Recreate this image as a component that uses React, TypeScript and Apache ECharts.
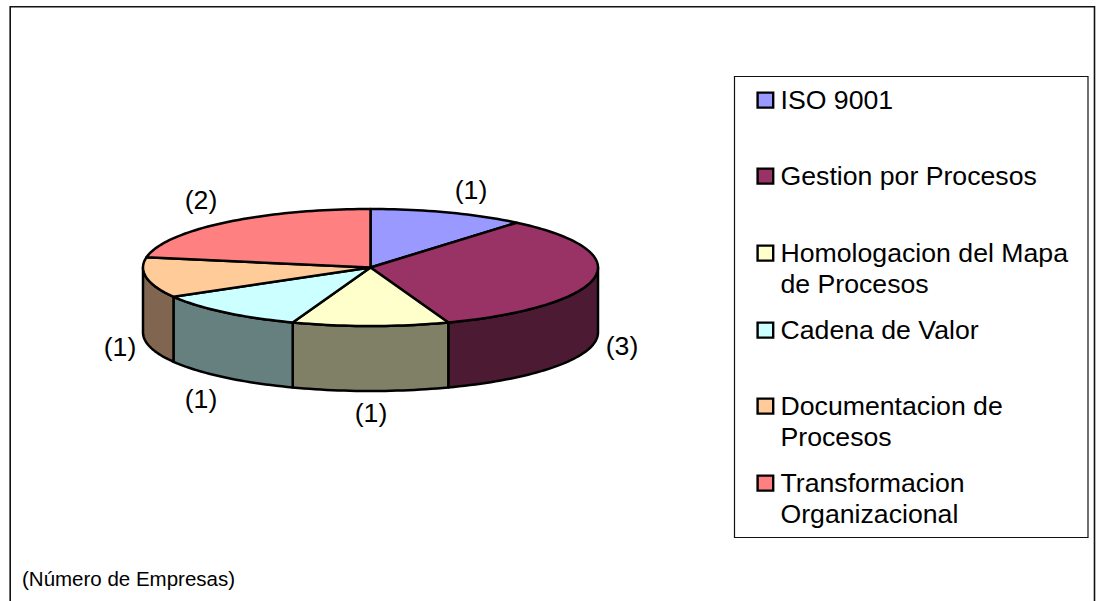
import React, { useEffect, useRef } from "react";
import * as echarts from "echarts";

const categories = [
  "ISO 9001",
  "Gestion por Procesos",
  "Homologacion del Mapa\nde Procesos",
  "Cadena de Valor",
  "Documentacion de\nProcesos",
  "Transformacion\nOrganizacional",
];
const values = [1, 3, 1, 1, 1, 2];
const valueLabels = ["(1)", "(3)", "(1)", "(1)", "(1)", "(2)"];
const topColors = ["#9999FF", "#993366", "#FFFFCC", "#CCFFFF", "#FFCC99", "#FF8080"];
const wallColors = ["#4D4D80", "#4D1A33", "#808066", "#668080", "#806650", "#804040"];
const footnote = "(Número de Empresas)";

const FONT = '"Liberation Sans", Arial, sans-serif';
const CX = 370.5;
const CY = 267.5;
const RX = 227.5;
const RY = 58.5;
const DEPTH = 65;
const labelCentres = [
  [471, 190],
  [622, 346],
  [371, 413],
  [201, 399],
  [120, 347],
  [201, 200],
];
const legendCentres = [100, 176, 253, 330, 406, 483];

const total = values.reduce((a, b) => a + b, 0);
const startAngle = (i: number) =>
  (values.slice(0, i).reduce((a, b) => a + b, 0) / total) * 2 * Math.PI;

const ellipsePoint = (a: number, dy = 0) => [
  CX + RX * Math.sin(a),
  CY - RY * Math.cos(a) + dy,
];
const arcPoints = (a0: number, a1: number, dy = 0) => {
  const n = Math.max(2, Math.ceil(((a1 - a0) / Math.PI) * 120));
  const pts: number[][] = [];
  for (let k = 0; k <= n; k++) pts.push(ellipsePoint(a0 + ((a1 - a0) * k) / n, dy));
  return pts;
};

const edge = { stroke: "#000", lineWidth: 2.5, lineJoin: "round" as const };

const renderWall = (params: any) => {
  const i = params.dataIndex;
  const a0 = Math.max(startAngle(i), Math.PI / 2);
  const a1 = Math.min(startAngle(i + 1), (3 * Math.PI) / 2);
  if (a1 <= a0) return { type: "group", children: [] };
  const points = [...arcPoints(a0, a1), ...arcPoints(a0, a1, DEPTH).reverse()];
  return { type: "polygon", shape: { points }, style: { fill: wallColors[i], ...edge } };
};

const renderTop = (params: any) => {
  const i = params.dataIndex;
  const points = [[CX, CY], ...arcPoints(startAngle(i), startAngle(i + 1))];
  return {
    type: "group",
    children: [
      { type: "polygon", shape: { points }, style: { fill: topColors[i], ...edge } },
      {
        type: "text",
        style: {
          text: valueLabels[i],
          x: labelCentres[i][0],
          y: labelCentres[i][1],
          align: "center",
          verticalAlign: "middle",
          fontFamily: FONT,
          fontSize: 26.67,
          fill: "#000",
        },
      },
    ],
  };
};

export default function App() {
  const ref = useRef<HTMLDivElement>(null);
  useEffect(() => {
    document.body.style.margin = "0";
    const chart = echarts.init(ref.current!, undefined, { renderer: "svg" });
    const legendItems = categories.flatMap((name, i) => [
      {
        type: "rect",
        shape: { x: 757.6, y: legendCentres[i] - 7.4, width: 15.6, height: 15 },
        style: { fill: topColors[i], stroke: "#000", lineWidth: 2.4 },
      },
      {
        type: "text",
        style: {
          text: name,
          x: 780.5,
          y: legendCentres[i] - 15.5,
          verticalAlign: "top",
          fontFamily: FONT,
          fontSize: 26.67,
          lineHeight: 31,
          fill: "#000",
        },
      },
    ]);
    chart.setOption({
      animation: false,
      backgroundColor: "#fff",
      graphic: [
        {
          type: "polyline",
          shape: { points: [[10.2, 620], [10.2, 6.7], [1094.5, 6.7], [1094.5, 620]] },
          style: { fill: "none", stroke: "#111", lineWidth: 1.6 },
          silent: true,
        },
        {
          type: "rect",
          shape: { x: 734.5, y: 76.5, width: 353.5, height: 461 },
          style: { fill: "#fff", stroke: "#111", lineWidth: 1.2 },
          silent: true,
        },
        ...legendItems,
        {
          type: "text",
          style: {
            text: footnote,
            x: 22,
            y: 578.5,
            verticalAlign: "middle",
            fontFamily: FONT,
            fontSize: 20.5,
            fill: "#000",
          },
        },
      ],
      series: [
        {
          type: "custom",
          coordinateSystem: "none",
          silent: true,
          z: 2,
          renderItem: renderWall,
          data: values,
        },
        {
          type: "custom",
          coordinateSystem: "none",
          silent: true,
          z: 3,
          renderItem: renderTop,
          data: values,
        },
      ],
    });
    return () => chart.dispose();
  }, []);
  return (
    <div
      ref={ref}
      style={{ position: "absolute", left: 0, top: 0, width: 1096, height: 601 }}
    />
  );
}
